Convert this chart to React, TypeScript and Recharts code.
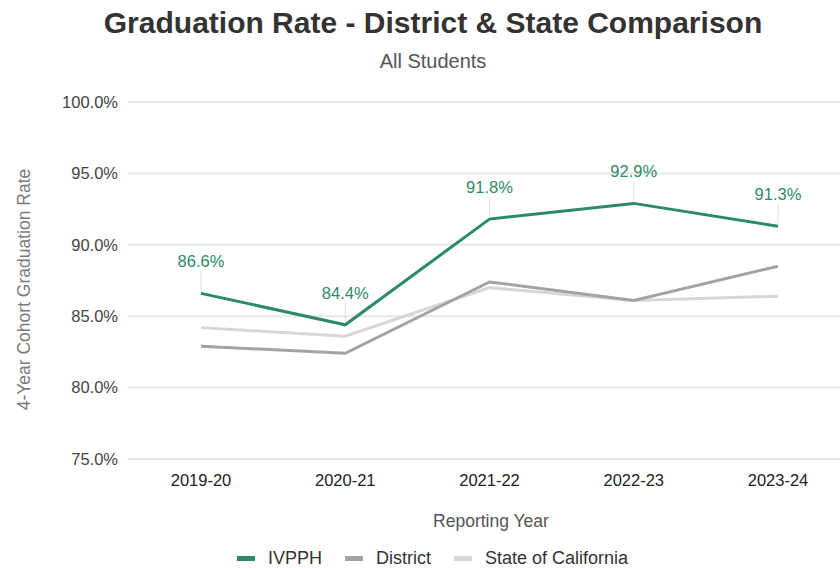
import React from 'react';
import { LineChart, Line, XAxis, YAxis, CartesianGrid } from 'recharts';

const years = ['2019-20', '2020-21', '2021-22', '2022-23', '2023-24'];
const ivpph = [86.6, 84.4, 91.8, 92.9, 91.3];
const district = [82.9, 82.4, 87.4, 86.1, 88.5];
const stateCA = [84.2, 83.6, 87.0, 86.1, 86.4];
const yTicks = [75, 80, 85, 90, 95, 100];

const seriesNames = ['IVPPH', 'District', 'State of California'];
const seriesColors = ['#2c8a68', '#a3a3a3', '#d6d6d6'];

const data = years.map((y, i) => ({ year: y, ivpph: ivpph[i], district: district[i], state: stateCA[i] }));

const FONT = '"Liberation Sans", Arial, sans-serif';

const DataLabel = (props: any) => {
  const { x, y, value } = props;
  if (x == null || y == null) return null;
  return (
    <g>
      <line x1={x} y1={y - 3} x2={x} y2={y - 22} stroke="#dedede" strokeWidth={1} />
      <text x={x} y={y - 26} textAnchor="middle" fill="#2c8a68" fontSize={16.5} fontFamily={FONT}>
        {value.toFixed(1) + '%'}
      </text>
    </g>
  );
};

const YLabel = (props: any) => {
  const vb = props.viewBox || { x: 0, y: 102, width: 128, height: 357 };
  const cx = vb.x + 24;
  const cy = vb.y + vb.height / 2 + 9;
  return (
    <text x={cx} y={cy} transform={`rotate(-90, ${cx}, ${cy})`} textAnchor="middle" dominantBaseline="central" fill="#7a7a7a" fontSize={17.5} fontFamily={FONT}>
      4-Year Cohort Graduation Rate
    </text>
  );
};

export default function App() {
  return (
    <div style={{ position: 'absolute', left: 0, top: 0, width: 840, height: 569, background: '#fff', fontFamily: FONT }}>
      <div style={{ position: 'absolute', top: 6, left: 26, width: 814, textAlign: 'center', fontSize: 30, fontWeight: 'bold', color: '#333', whiteSpace: 'nowrap' }}>
        Graduation Rate - District &amp; State Comparison
      </div>
      <div style={{ position: 'absolute', top: 50, left: 26, width: 814, textAlign: 'center', fontSize: 20, color: '#555' }}>
        All Students
      </div>
      <LineChart width={840} height={569} data={data} margin={{ top: 102, right: 0, bottom: 30, left: 0 }}>
        <CartesianGrid vertical={false} stroke="#e6e6e6" strokeWidth={2} />
        <XAxis
          dataKey="year"
          axisLine={false}
          tickLine={false}
          padding={{ left: 73, right: 62 }}
          tick={{ fill: '#222', fontSize: 16.5, fontFamily: FONT }}
          tickMargin={9}
          height={80}
          label={{ value: 'Reporting Year', position: 'insideBottom', offset: 12, fill: '#555', fontSize: 17.5, fontFamily: FONT, dx: 7 }}
        />
        <YAxis
          domain={[75, 100]}
          ticks={yTicks}
          axisLine={false}
          tickLine={false}
          width={128}
          tickMargin={4}
          tickFormatter={(v: number) => v.toFixed(1) + '%'}
          tick={{ fill: '#444', fontSize: 16.5, fontFamily: FONT }}
          label={<YLabel />}
        />
        <Line dataKey="state" stroke={seriesColors[2]} strokeWidth={3} dot={false} isAnimationActive={false} />
        <Line dataKey="district" stroke={seriesColors[1]} strokeWidth={3} dot={false} isAnimationActive={false} />
        <Line dataKey="ivpph" stroke={seriesColors[0]} strokeWidth={3} dot={false} isAnimationActive={false} label={<DataLabel />} />
      </LineChart>
      <div style={{ position: 'absolute', top: 548, left: 237, display: 'flex', alignItems: 'center', fontSize: 18, color: '#333' }}>
        {seriesNames.map((n, i) => (
          <div key={n} style={{ display: 'flex', alignItems: 'center', marginRight: 23 }}>
            <span style={{ display: 'inline-block', width: 18, height: 5, background: seriesColors[i], marginRight: 13 }} />
            <span>{n}</span>
          </div>
        ))}
      </div>
    </div>
  );
}
